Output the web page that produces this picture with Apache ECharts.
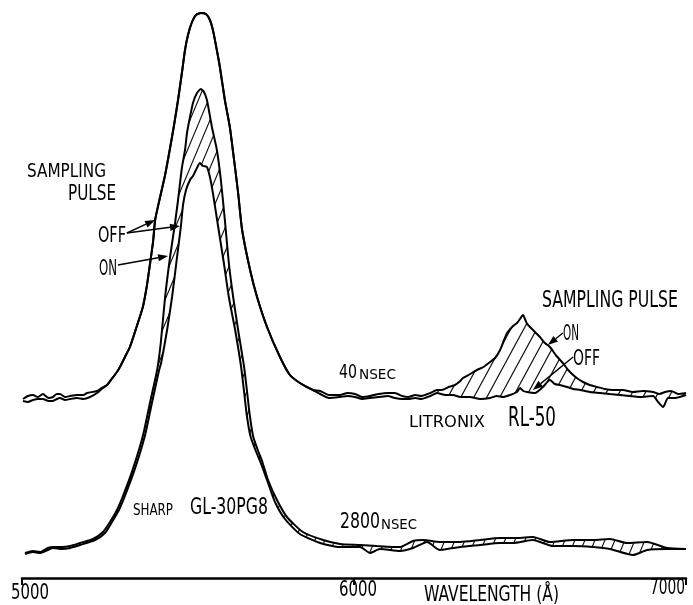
<!DOCTYPE html>
<html>
<head>
<meta charset="utf-8">
<script src="https://cdn.jsdelivr.net/npm/echarts@6/dist/echarts.min.js"></script>
<style>
  html, body { margin: 0; padding: 0; background: #fff; }
  #chart { width: 693px; height: 605px; }
</style>
</head>
<body>
<div id="chart"></div>
<script>
// Emission spectra, wavelength in angstrom vs. relative intensity.
const tickLabels = [5000, 6000, 7000];

// 40 nsec traces: baseline segments left of the SHARP peak
const base40On = [[5003,35.8],[5018,36.4],[5033,36.6],[5048,36.2],[5063,36.8],[5080,36.0],[5093,36.2],[5105,36.8],[5114,36.8],[5130,36.2],[5145,36.4],[5166,36.6],[5185,36.6],[5196,37.0],[5226,37.4],[5240,38.0]];
const base40Off = [[5003,35.4],[5018,35.2],[5033,35.6],[5048,35.8],[5063,35.8],[5080,35.4],[5093,35.4],[5105,35.8],[5114,36.0],[5130,35.6],[5145,35.8],[5166,36.0],[5185,35.8],[5205,36.2],[5226,37.0],[5240,37.8]];

// 40 nsec SHARP GL-30PG8 peak (ON and OFF coincide)
const sharpPeak40 = [[5256,38.6],[5270,39.8],[5286,41.2],[5295,42.2],[5310,44.2],[5325,46.2],[5345,50.2],[5364,54.2],[5376,58.4],[5386,63],[5395,67.4],[5401,71.6],[5416,76.2],[5431,80.6],[5446,86],[5458,90.6],[5470,95.6],[5482,101.2],[5491,105.6],[5500,108.6],[5512,111.2],[5524,112.6],[5539,113],[5554,112.8],[5566,111.6],[5575,109.6],[5584,106.6],[5596,102.2],[5611,95.6],[5626,90.2],[5638,84],[5651,77],[5663,69.6],[5687,61.6],[5708,56.2],[5738,50.2],[5777,44.2],[5807,40.6],[5837,39],[5876,37.6]];

// 40 nsec traces right of 5880 A, including the LITRONIX RL-50 band
const tail40On = [[5898,37.4],[5925,36.6],[5958,36.6],[5980,37.0],[6003,36.8],[6025,36.2],[6048,36.4],[6075,36.8],[6102,37.0],[6123,37.0],[6145,36.4],[6163,36.2],[6185,36.6],[6202,36.4],[6230,37.0],[6250,37.6],[6265,37.6],[6285,38.2],[6304,38.6],[6320,39.4],[6328,40],[6345,40.6],[6370,41.6],[6390,42.2],[6410,43.2],[6425,44.0],[6440,45.6],[6452,47.6],[6461,49],[6479,50.4],[6491,51],[6500,51.8],[6509,52.6],[6520,51.0],[6530,50.2],[6545,49.2],[6560,48.2],[6575,47.0],[6590,46.2],[6610,44.4],[6629,43],[6645,41.6],[6660,40.6],[6675,39.8],[6690,39.2],[6710,38.6],[6732,38.2],[6755,37.8],[6780,37.6],[6810,37.6],[6840,37.2],[6870,37.4],[6901,37.2],[6920,36.8],[6937,37.2],[6955,37.4],[6976,36.8],[7000,37]];
const tail40Off = [[5898,36.8],[5925,36.0],[5958,36.2],[5980,36.4],[6003,36.2],[6025,35.8],[6048,36.0],[6075,36.2],[6102,36.4],[6123,36.0],[6145,35.8],[6163,35.8],[6185,36.0],[6202,35.8],[6230,36.4],[6250,37.0],[6275,36.6],[6298,36.6],[6320,36.2],[6349,36.2],[6380,35.8],[6410,36],[6430,36.4],[6449,36.2],[6470,36.6],[6491,37.2],[6500,38],[6510,37.4],[6521,37.2],[6545,37],[6569,38.2],[6590,39.6],[6605,38.8],[6620,38.6],[6642,38.2],[6660,37.8],[6681,37.6],[6710,37.2],[6741,37],[6770,36.8],[6801,36.6],[6830,36.4],[6861,36.2],[6901,36.4],[6916,35.2],[6931,34.2],[6946,36],[6967,36],[7000,36.6]];

// 2800 nsec traces
const off2800 = [[5009,5],[5033,5.4],[5054,5.2],[5078,6],[5093,6.2],[5120,6.2],[5145,6.4],[5175,7],[5214,7.8],[5244,9.2],[5265,11.2],[5286,13.6],[5304,16.4],[5334,21.8],[5364,28.4],[5386,35.2],[5407,41.6],[5418,47],[5431,56.2],[5446,64.2],[5461,71],[5470,75.6],[5476,79],[5482,82.2],[5491,85.6],[5497,89],[5506,92.2],[5515,95],[5527,97],[5539,97.8],[5548,97.2],[5557,95.6],[5572,90.2],[5587,85.6],[5599,79.6],[5611,71.6],[5623,63],[5636,56.2],[5651,49.6],[5669,42.2],[5678,37.2],[5686,32.6],[5696,28.4],[5710,25.6],[5723,23.4],[5741,19.6],[5768,15.6],[5798,12.2],[5846,9.2],[5907,7.6],[5958,6.8],[6018,6.6],[6069,6.4],[6139,6.2],[6178,7.4],[6208,7.6],[6259,7.2],[6319,7.2],[6380,7.6],[6440,8],[6491,8],[6539,8.2],[6590,7.2],[6660,7.6],[6720,7.6],[6771,7.8],[6822,7],[6883,7.2],[6943,6],[7000,5.8]];
const on2800 = [[5009,4.8],[5033,5.2],[5054,5],[5078,5.6],[5093,6],[5120,5.8],[5145,6],[5175,6.6],[5220,7.6],[5250,9],[5271,11.2],[5292,13.6],[5310,16.4],[5340,21.8],[5370,28.4],[5392,35.2],[5413,41.6],[5419,43],[5437,49.6],[5452,56.2],[5467,64.2],[5479,70.6],[5485,74.6],[5494,77.6],[5506,79.6],[5515,80.4],[5524,81.6],[5536,83],[5545,82.4],[5557,82.2],[5566,80.2],[5575,77],[5590,70.6],[5608,63],[5623,56.2],[5642,49.6],[5660,42.2],[5669,37.2],[5677,32.6],[5688,28.4],[5703,25.6],[5717,23.4],[5738,19.6],[5762,15.2],[5792,11.8],[5837,8.8],[5898,7],[5958,6.2],[6018,6.2],[6048,5],[6078,5.8],[6139,5.4],[6178,6],[6220,7.2],[6259,5.6],[6319,6.2],[6380,6.6],[6440,7],[6479,7],[6539,7.6],[6599,6.4],[6660,6.4],[6720,6.2],[6771,5.8],[6840,4.6],[6883,5.6],[6943,5.8],[7000,5.8]];

// Pointer arrows [tailX, tailY, headX, headY], in wavelength / intensity units
const arrows = [
  [5316, 69, 5401, 71.6],
  [5316, 69, 5476, 70.4],
  [5289, 62.6, 5440, 64.4],
  [6629, 49, 6584, 46.6],
  [6660, 44.2, 6539, 37.6]
];

const on40 = base40On.concat(sharpPeak40, tail40On);
const off40 = base40Off.concat(sharpPeak40, tail40Off);

const FONT = "'DejaVu Sans Condensed', 'DejaVu Sans', sans-serif";

// Diagonal hatch fill
function hatch(w, h, lw) {
  const c = document.createElement('canvas');
  c.width = w; c.height = h;
  const g = c.getContext('2d');
  g.strokeStyle = '#111';
  g.lineWidth = lw;
  g.beginPath();
  for (const off of [-w, 0, w]) {
    g.moveTo(off - w, 2 * h);
    g.lineTo(off + 2 * w, -h);
  }
  g.stroke();
  return { image: c, repeat: 'repeat' };
}

function band(upper, lower, fill) {
  return {
    type: 'custom',
    silent: true,
    z: 1,
    data: [upper[0]],
    renderItem: function (params, api) {
      const pts = upper.map(p => api.coord(p))
        .concat(lower.slice().reverse().map(p => api.coord(p)));
      return { type: 'polygon', shape: { points: pts }, style: { fill: fill, stroke: null } };
    }
  };
}

function trace(data) {
  return {
    type: 'line',
    data: data,
    showSymbol: false,
    smooth: 0.2,
    silent: true,
    z: 3,
    lineStyle: { color: '#000', width: 2 }
  };
}

// Text squeezed to a horizontal span
const mctx = document.createElement('canvas').getContext('2d');
function label(str, x0, x1, yMid, size) {
  const font = size + 'px ' + FONT;
  mctx.font = font;
  const w = mctx.measureText(str).width;
  return {
    type: 'text', x: x0, y: yMid, scaleX: (x1 - x0) / w, silent: true,
    style: { text: str, font: font, fill: '#000', align: 'left', verticalAlign: 'middle' }
  };
}

const litOn = tail40On.filter(p => p[0] >= 6220);
const litOff = tail40Off.filter(p => p[0] >= 6220);

const chart = echarts.init(document.getElementById('chart'), null, { renderer: 'canvas' });
chart.setOption({
  animation: false,
  backgroundColor: '#fff',
  grid: { left: 22, right: 7, top: 8, bottom: 27 },
  xAxis: {
    type: 'value', min: 5000, max: 7000, interval: 1000,
    axisLine: { lineStyle: { color: '#000', width: 2.5 } },
    axisTick: { length: 7, lineStyle: { color: '#000', width: 2 } },
    splitLine: { show: false },
    axisLabel: { show: false }
  },
  yAxis: { type: 'value', min: 0, max: 114, show: false },
  series: [
    band(litOn, litOff, hatch(13, 24, 1.2)),
    band(off2800, on2800, hatch(10, 24, 1.1)),
    trace(off40),
    trace(on40),
    trace(off2800),
    trace(on2800),
    {
      type: 'custom',
      silent: true,
      z: 4,
      data: arrows,
      encode: { x: [0, 2], y: [1, 3] },
      renderItem: function (params, api) {
        const p0 = api.coord([api.value(0), api.value(1)]);
        const p1 = api.coord([api.value(2), api.value(3)]);
        const ang = Math.atan2(p1[1] - p0[1], p1[0] - p0[0]);
        const L = 10, W = 3.6;
        const bx = p1[0] - L * Math.cos(ang), by = p1[1] - L * Math.sin(ang);
        const nx = -Math.sin(ang) * W, ny = Math.cos(ang) * W;
        return {
          type: 'group',
          children: [
            { type: 'line', shape: { x1: p0[0], y1: p0[1], x2: bx, y2: by }, style: { stroke: '#000', lineWidth: 1.4 } },
            { type: 'polygon', shape: { points: [p1, [bx + nx, by + ny], [bx - nx, by - ny]] }, style: { fill: '#000' } }
          ]
        };
      }
    }
  ]
});

// Tick labels placed from the axis scale: value -> [left offset, right offset, vertical middle]
const tickPlacement = { 5000: [-11, 27, 593], 6000: [-15, 23, 590], 7000: [-36, -1, 588] };
const tickTexts = tickLabels.map(v => {
  const x = chart.convertToPixel({ xAxisIndex: 0 }, v);
  const p = tickPlacement[v];
  return label(String(v), x + p[0], x + p[1], p[2], 22);
});

chart.setOption({
  graphic: [
    label('SAMPLING', 27, 106, 172, 20),
    label('PULSE', 68, 116, 195, 21),
    label('OFF', 98, 126, 236, 22),
    label('ON', 99, 117, 270, 21),
    label('40', 339, 357, 373, 19),
    label('NSEC', 359, 396, 375.5, 14),
    label('LITRONIX', 409, 485, 423.5, 15),
    label('RL-50', 508, 556, 419, 26),
    label('SAMPLING PULSE', 542, 678, 301.5, 23),
    label('ON', 563, 579, 334.5, 21),
    label('OFF', 573, 600, 359.5, 21),
    label('SHARP', 133, 173, 511, 16),
    label('GL-30PG8', 190, 268, 508.5, 23),
    label('2800', 340, 380, 522.5, 21),
    label('NSEC', 381, 417, 525, 14),
    label('WAVELENGTH (Å)', 424, 559, 596, 21)
  ].concat(tickTexts)
});
</script>
</body>
</html>
